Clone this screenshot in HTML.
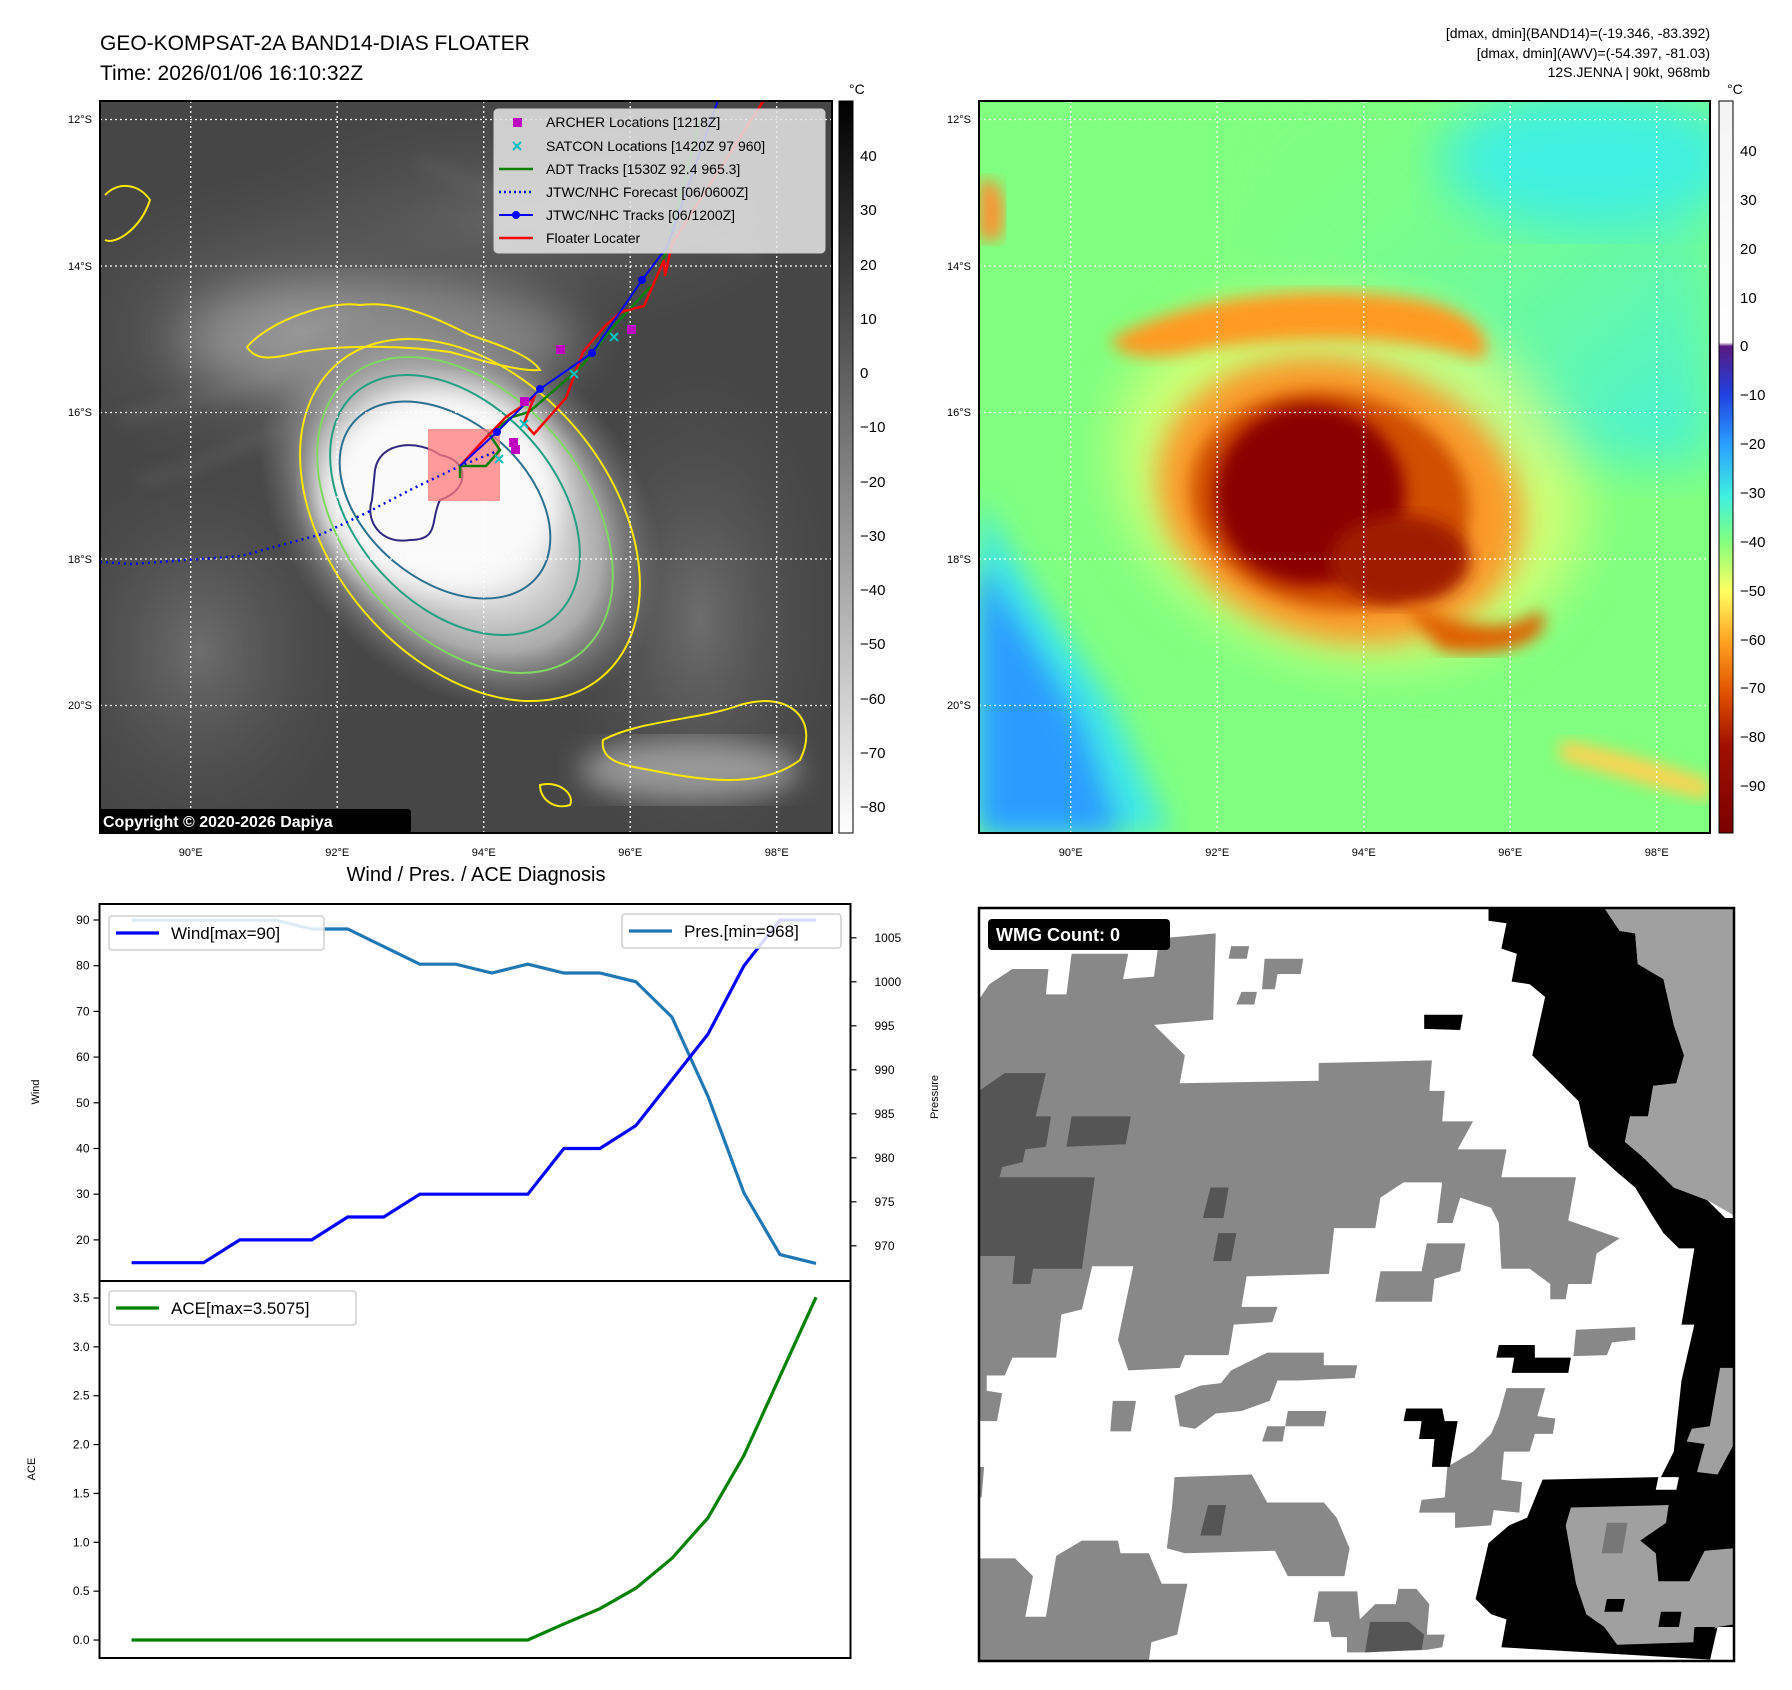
<!DOCTYPE html>
<html><head><meta charset="utf-8"><style>
html,body{margin:0;padding:0;background:#fff;}
svg{display:block;font-family:"Liberation Sans","DejaVu Sans",sans-serif;}
</style></head><body>
<svg id="root" width="1792" height="1690" viewBox="0 0 1792 1690" xmlns="http://www.w3.org/2000/svg">
<defs>
<linearGradient id="grayBar" x1="0" y1="1" x2="0" y2="0">
<stop offset="0" stop-color="#fff"/><stop offset="1" stop-color="#000"/></linearGradient>
<linearGradient id="colBar" x1="0" y1="0" x2="0" y2="1">
<stop offset="0" stop-color="#f4f4f4"/><stop offset="0.33" stop-color="#ffffff"/>
<stop offset="0.335" stop-color="#5a1a80"/><stop offset="0.40" stop-color="#2040e0"/>
<stop offset="0.47" stop-color="#2aa0ff"/><stop offset="0.54" stop-color="#40f0e0"/>
<stop offset="0.60" stop-color="#80ff80"/><stop offset="0.67" stop-color="#ffff60"/>
<stop offset="0.74" stop-color="#ffa020"/><stop offset="0.81" stop-color="#e05000"/>
<stop offset="0.88" stop-color="#a01000"/><stop offset="1" stop-color="#7a0000"/></linearGradient>
<radialGradient id="cloudL" cx="0.5" cy="0.5" r="0.5">
<stop offset="0" stop-color="#ffffff"/><stop offset="0.35" stop-color="#eeeeee"/><stop offset="0.7" stop-color="#aaaaaa"/><stop offset="1" stop-color="#777" stop-opacity="0"/></radialGradient>
<radialGradient id="hazeL" cx="0.5" cy="0.5" r="0.5">
<stop offset="0" stop-color="#888"/><stop offset="1" stop-color="#555" stop-opacity="0"/></radialGradient>
<linearGradient id="cyanTR" x1="0" y1="0" x2="1" y2="1">
<stop offset="0" stop-color="#80ff80" stop-opacity="0"/><stop offset="1" stop-color="#40f0e0"/></linearGradient>
<filter id="blur8"><feGaussianBlur stdDeviation="8"/></filter>
<filter id="blur14"><feGaussianBlur stdDeviation="14"/></filter>
<filter id="blur25"><feGaussianBlur stdDeviation="25"/></filter>
<clipPath id="clipL"><rect x="100" y="101" width="732" height="732"/></clipPath>
<clipPath id="clipR"><rect x="979" y="101" width="731" height="732"/></clipPath>
<clipPath id="clipB"><rect x="979" y="908" width="755" height="753"/></clipPath>
</defs>

<text x="100" y="50" font-size="21" fill="#000">GEO-KOMPSAT-2A BAND14-DIAS FLOATER</text>
<text x="100" y="80" font-size="21" fill="#000">Time: 2026/01/06 16:10:32Z</text>
<g font-size="14" text-anchor="end" fill="#000">
<text x="1710" y="38">[dmax, dmin](BAND14)=(-19.346, -83.392)</text>
<text x="1710" y="58">[dmax, dmin](AWV)=(-54.397, -81.03)</text>
<text x="1710" y="77">12S.JENNA | 90kt, 968mb</text>
</g>

<!-- LEFT MAP -->
<g clip-path="url(#clipL)">
<rect x="100" y="101" width="732" height="732" fill="#464646"/>
<ellipse cx="300" cy="330" rx="260" ry="160" fill="url(#hazeL)" opacity="0.8"/>
<ellipse cx="520" cy="220" rx="300" ry="120" fill="url(#hazeL)" opacity="0.5"/>
<ellipse cx="700" cy="620" rx="140" ry="260" fill="url(#hazeL)" opacity="0.6"/>
<ellipse cx="200" cy="650" rx="160" ry="200" fill="url(#hazeL)" opacity="0.6"/>
<g stroke="#777" stroke-width="6" opacity="0.5" filter="url(#blur8)" fill="none">
<path d="M120,420 C200,400 260,380 320,360"/><path d="M140,480 C200,470 250,440 300,420"/><path d="M600,160 C650,200 700,240 760,260"/><path d="M420,160 C480,190 540,200 600,230"/>
</g>
<ellipse cx="380" cy="340" rx="200" ry="60" fill="#aaa" filter="url(#blur25)" opacity="0.6"/>
<ellipse cx="460" cy="510" rx="230" ry="170" transform="rotate(45 460 510)" fill="url(#cloudL)"/>
<ellipse cx="440" cy="490" rx="120" ry="100" fill="#fafafa" filter="url(#blur14)"/>
<ellipse cx="690" cy="770" rx="110" ry="30" fill="#999" filter="url(#blur14)"/>
<g fill="none" stroke-width="2">
<ellipse cx="470" cy="520" rx="205" ry="140" transform="rotate(50 470 520)" stroke="#ffe800"/>
<path d="M247,347 C270,320 330,300 360,305 C400,300 440,320 470,335 C500,345 530,355 540,370 C520,372 480,360 450,352 C400,345 340,345 300,352 C270,360 255,360 247,347 Z" stroke="#ffe800"/>
<ellipse cx="465" cy="515" rx="180" ry="120" transform="rotate(50 465 515)" stroke="#7fd860"/>
<ellipse cx="455" cy="505" rx="150" ry="100" transform="rotate(48 455 505)" stroke="#22a080"/>
<ellipse cx="445" cy="500" rx="120" ry="80" transform="rotate(40 445 500)" stroke="#2a7090"/>
<path d="M375,470 C380,440 420,440 440,455 C470,460 470,490 440,500 C430,520 440,540 410,540 C380,545 365,520 372,500 Z" stroke="#302880"/>
<path d="M603,740 C640,720 700,720 740,705 C790,690 820,720 800,760 C760,790 700,780 650,770 C620,765 600,760 603,740 Z" stroke="#ffe800"/>
<path d="M105,195 C120,180 140,185 150,200 C140,230 115,245 105,240" stroke="#ffe800"/>
<path d="M540,785 C560,780 575,795 570,805 C555,810 540,800 540,785 Z" stroke="#ffe800"/>
</g>
<g stroke="#fff" stroke-width="1.3" stroke-dasharray="2,3">
<line x1="190.7" y1="101" x2="190.7" y2="833"/><line x1="337.2" y1="101" x2="337.2" y2="833"/><line x1="483.7" y1="101" x2="483.7" y2="833"/><line x1="630.2" y1="101" x2="630.2" y2="833"/><line x1="776.7" y1="101" x2="776.7" y2="833"/>
<line x1="100" y1="119.5" x2="832" y2="119.5"/><line x1="100" y1="266" x2="832" y2="266"/><line x1="100" y1="412.5" x2="832" y2="412.5"/><line x1="100" y1="559" x2="832" y2="559"/><line x1="100" y1="705.5" x2="832" y2="705.5"/>
</g>
<rect x="428" y="429" width="72" height="72" fill="#ff7a7a" opacity="0.75"/>
<polyline points="100,562 132,564 241,556 322,534 368,512 414,488 460,466 500,450" fill="none" stroke="#0000ff" stroke-width="2.5" stroke-dasharray="2,4"/>
<polyline points="460,478 460,466 486,466 500,450 489,434 512,417 529,412 580,368 615,325 655,282 667,249 700,120" fill="none" stroke="#008000" stroke-width="2.5"/>
<polyline points="460,466 480,444 506,417 534,398 524,423 534,434 566,398 583,352 606,325 621,312 644,306 664,260 665,276 672,244 764,100" fill="none" stroke="#ff0000" stroke-width="2.5"/>
<polyline points="460,466 497,432 540,389 592,353 642,280 667,247 718,100" fill="none" stroke="#0000ff" stroke-width="2"/>
<g fill="#0000ff"><circle cx="497" cy="432" r="4"/><circle cx="540" cy="389" r="4"/><circle cx="592" cy="353" r="4"/><circle cx="642" cy="280" r="4"/></g>
<g fill="#c000c0"><rect x="556" y="345" width="9" height="9"/><rect x="627" y="325" width="9" height="9"/><rect x="509" y="438" width="9" height="9"/><rect x="511" y="445" width="9" height="9"/><rect x="520" y="397" width="9" height="9"/></g>
<g stroke="#00c0c0" stroke-width="2"><path d="M610,333 l8,8 M618,333 l-8,8"/><path d="M520,420 l8,8 M528,420 l-8,8"/><path d="M495,455 l8,8 M503,455 l-8,8"/><path d="M570,370 l8,8 M578,370 l-8,8"/></g>
<g>
<rect x="494" y="109" width="331" height="144" rx="4" fill="#e6e6e6" fill-opacity="0.85" stroke="#ccc"/>
<g font-size="14" fill="#000">
<rect x="513" y="118" width="9" height="9" fill="#c000c0"/><text x="546" y="127">ARCHER Locations [1218Z]</text>
<path d="M513,142 l8,8 M521,142 l-8,8" stroke="#00c0c0" stroke-width="2"/><text x="546" y="151">SATCON Locations [1420Z 97 960]</text>
<line x1="499" y1="169" x2="533" y2="169" stroke="#008000" stroke-width="2.5"/><text x="546" y="174">ADT Tracks [1530Z 92.4 965.3]</text>
<line x1="499" y1="192" x2="533" y2="192" stroke="#0000ff" stroke-width="2.5" stroke-dasharray="2,3"/><text x="546" y="197">JTWC/NHC Forecast [06/0600Z]</text>
<line x1="499" y1="215" x2="533" y2="215" stroke="#0000ff" stroke-width="2"/><circle cx="516" cy="215" r="4" fill="#0000ff"/><text x="546" y="220">JTWC/NHC Tracks [06/1200Z]</text>
<line x1="499" y1="238" x2="533" y2="238" stroke="#ff0000" stroke-width="2.5"/><text x="546" y="243">Floater Locater</text>
</g></g>
<rect x="98" y="809" width="313" height="24" rx="3" fill="#000"/>
<text x="103" y="827" font-size="16" font-weight="bold" fill="#fff">Copyright © 2020-2026 Dapiya</text>
</g>
<rect x="100" y="101" width="732" height="732" fill="none" stroke="#000" stroke-width="2"/>

<g font-size="11" fill="#000" text-anchor="end">
<text x="92" y="123">12°S</text><text x="92" y="270">14°S</text><text x="92" y="416">16°S</text><text x="92" y="563">18°S</text><text x="92" y="709">20°S</text></g>
<g font-size="11" fill="#000" text-anchor="middle">
<text x="190.7" y="856">90°E</text><text x="337.2" y="856">92°E</text><text x="483.7" y="856">94°E</text><text x="630.2" y="856">96°E</text><text x="776.7" y="856">98°E</text></g>

<g>
<rect x="839" y="101" width="14" height="732" fill="url(#grayBar)" stroke="#000" stroke-width="1"/>
<text x="849" y="94" font-size="14">°C</text>
<g font-size="15" fill="#000">
<text x="860" y="161">40</text><text x="860" y="215">30</text><text x="860" y="270">20</text><text x="860" y="324">10</text><text x="860" y="378">0</text>
<text x="860" y="432">−10</text><text x="860" y="487">−20</text><text x="860" y="541">−30</text><text x="860" y="595">−40</text><text x="860" y="649">−50</text>
<text x="860" y="704">−60</text><text x="860" y="758">−70</text><text x="860" y="812">−80</text></g></g>

<!-- RIGHT MAP -->
<g clip-path="url(#clipR)">
<rect x="979" y="101" width="731" height="732" fill="#80ff80"/>
<rect x="1250" y="101" width="460" height="360" fill="url(#cyanTR)" filter="url(#blur25)"/>
<ellipse cx="1590" cy="160" rx="150" ry="70" fill="#40f0e0" filter="url(#blur25)"/>
<polygon points="979,500 1040,600 1110,700 1170,833 979,833" fill="#40e8e8" filter="url(#blur14)"/>
<polygon points="979,560 1030,640 1080,720 1120,833 979,833" fill="#2a9cff" filter="url(#blur14)"/>
<ellipse cx="1350" cy="480" rx="240" ry="180" transform="rotate(15 1350 480)" fill="#ffff70" filter="url(#blur25)" opacity="0.6"/>
<path d="M1110,340 C1180,300 1300,280 1420,300 C1470,310 1500,340 1480,360 C1420,340 1320,330 1200,350 C1160,360 1120,360 1110,340 Z" fill="#ff9a20" filter="url(#blur8)"/>
<ellipse cx="1340" cy="500" rx="185" ry="140" transform="rotate(15 1340 500)" fill="#ff9020" filter="url(#blur14)" opacity="0.9"/>
<ellipse cx="1330" cy="500" rx="140" ry="108" transform="rotate(10 1330 500)" fill="#d05000" filter="url(#blur8)"/>
<ellipse cx="1310" cy="495" rx="95" ry="90" fill="#8a0000" filter="url(#blur8)"/>
<ellipse cx="1400" cy="560" rx="70" ry="45" fill="#a01a00" filter="url(#blur8)"/>
<path d="M1400,600 C1450,620 1500,640 1540,610 C1560,640 1500,660 1440,650 Z" fill="#e06000" filter="url(#blur8)"/>
<path d="M1560,740 C1620,750 1680,770 1710,780 L1710,800 C1660,790 1600,770 1560,760 Z" fill="#ffd050" filter="url(#blur8)"/>
<path d="M979,180 C1000,175 1010,200 1000,240 L979,240 Z" fill="#ff9030" filter="url(#blur8)"/>
<g stroke="#fff" stroke-width="1.3" stroke-dasharray="2,3">
<line x1="1070.7" y1="101" x2="1070.7" y2="833"/><line x1="1217.2" y1="101" x2="1217.2" y2="833"/><line x1="1363.7" y1="101" x2="1363.7" y2="833"/><line x1="1510.2" y1="101" x2="1510.2" y2="833"/><line x1="1656.7" y1="101" x2="1656.7" y2="833"/>
<line x1="979" y1="119.5" x2="1710" y2="119.5"/><line x1="979" y1="266" x2="1710" y2="266"/><line x1="979" y1="412.5" x2="1710" y2="412.5"/><line x1="979" y1="559" x2="1710" y2="559"/><line x1="979" y1="705.5" x2="1710" y2="705.5"/>
</g></g>
<rect x="979" y="101" width="731" height="732" fill="none" stroke="#000" stroke-width="2"/>
<g font-size="11" fill="#000" text-anchor="end">
<text x="971" y="123">12°S</text><text x="971" y="270">14°S</text><text x="971" y="416">16°S</text><text x="971" y="563">18°S</text><text x="971" y="709">20°S</text></g>
<g font-size="11" fill="#000" text-anchor="middle">
<text x="1070.7" y="856">90°E</text><text x="1217.2" y="856">92°E</text><text x="1363.7" y="856">94°E</text><text x="1510.2" y="856">96°E</text><text x="1656.7" y="856">98°E</text></g>
<g>
<rect x="1719" y="101" width="14" height="732" fill="url(#colBar)" stroke="#000" stroke-width="1"/>
<text x="1727" y="94" font-size="14">°C</text>
<g font-size="15" fill="#000">
<text x="1740" y="156">40</text><text x="1740" y="205">30</text><text x="1740" y="254">20</text><text x="1740" y="303">10</text><text x="1740" y="351">0</text>
<text x="1740" y="400">−10</text><text x="1740" y="449">−20</text><text x="1740" y="498">−30</text><text x="1740" y="547">−40</text><text x="1740" y="596">−50</text>
<text x="1740" y="645">−60</text><text x="1740" y="693">−70</text><text x="1740" y="742">−80</text><text x="1740" y="791">−90</text></g></g>

<!-- WMG panel -->
<g clip-path="url(#clipB)">
<svg x="979" y="908" width="755" height="753" viewBox="30 30 1467 1482" preserveAspectRatio="none">
<rect x="30" y="30" width="1467" height="1482" fill="#fff"/>
<g fill="#888">
<polygon points="30,210 50,180 95,150 165,150 160,200 200,200 210,120 320,120 310,170 370,165 380,90 490,80 485,250 370,260 400,290 430,320 420,375 690,370 690,335 910,330 905,390 935,390 930,450 990,450 960,505 1055,505 1045,560 1190,560 1175,645 1275,680 1230,710 1220,770 1175,770 1170,800 1140,800 1140,770 1100,740 1045,740 1040,650 1025,620 965,600 950,650 920,650 930,570 855,570 810,600 800,660 720,660 710,750 550,755 540,815 610,815 600,845 525,850 515,910 430,910 420,935 320,940 300,880 330,735 250,735 230,820 190,830 180,915 95,915 80,950 45,950 45,980 75,985 65,1040 30,1040"/>
<polygon points="30,1310 100,1310 135,1345 120,1425 160,1425 180,1305 230,1275 300,1275 305,1300 360,1300 385,1360 435,1360 415,1460 365,1475 360,1512 30,1512"/>
<polygon points="410,1150 560,1145 590,1200 700,1200 725,1230 750,1290 740,1345 630,1345 605,1295 430,1300 395,1290 405,1210"/>
<polygon points="1055,975 1130,975 1115,1030 1150,1035 1145,1065 1110,1065 1100,1100 1050,1100 1045,1155 1085,1160 1080,1220 1030,1215 1025,1245 955,1250 955,1220 885,1220 890,1195 935,1190 940,1130 990,1100 1025,1065 1040,1030"/>
<polygon points="520,940 590,905 700,905 700,930 765,930 760,955 650,960 610,960 595,1000 540,1020 490,1025 450,1055 420,1050 410,990 460,970 500,965"/>
<polygon points="690,1375 765,1375 770,1430 800,1400 840,1400 845,1370 880,1370 905,1400 900,1460 935,1460 930,1485 900,1490 780,1495 745,1495 745,1465 715,1465 710,1435 680,1435"/>
<polygon points="810,745 890,745 900,690 975,690 965,745 915,760 910,805 800,805"/>
<polygon points="1190,860 1305,855 1305,880 1260,885 1250,910 1185,912"/>
<polygon points="520,105 555,105 550,130 515,130"/><polygon points="585,130 660,130 655,160 610,160 605,190 580,190"/><polygon points="540,195 570,195 565,220 530,220"/>
<polygon points="30,1130 40,1130 35,1190 30,1190"/><polygon points="290,1000 335,1000 325,1060 285,1060"/><polygon points="590,1050 625,1050 620,1080 580,1080"/><polygon points="630,1020 705,1020 700,1050 625,1050"/>
</g>
<g fill="#555">
<polygon points="30,390 80,355 160,355 140,440 170,440 160,500 120,505 115,530 75,540 70,560 185,560 255,560 230,740 135,740 130,770 95,770 100,715 30,715"/>
<polygon points="210,440 325,440 315,495 200,500"/>
<polygon points="480,580 515,580 505,640 465,640"/><polygon points="495,670 530,670 520,725 485,725"/>
<polygon points="475,1205 510,1205 500,1265 460,1265"/>
<polygon points="790,1435 865,1435 895,1460 890,1490 780,1495"/>
</g>
<g fill="#000">
<polygon points="1020,30 1245,30 1275,75 1305,80 1310,140 1360,170 1380,260 1400,320 1385,375 1340,380 1330,440 1295,440 1285,490 1320,520 1350,550 1380,580 1445,605 1480,640 1497,640 1497,1512 1045,1485 1055,1430 1025,1420 995,1390 1020,1280 1060,1245 1095,1230 1125,1155 1355,1150 1380,1100 1395,960 1420,850 1395,850 1420,700 1390,700 1360,670 1335,630 1305,580 1270,550 1215,500 1195,410 1135,350 1105,320 1130,205 1100,180 1065,175 1075,120 1045,110 1055,60 1020,55"/>
<polygon points="895,240 970,240 965,270 895,268"/>
<polygon points="1040,890 1110,890 1110,915 1180,915 1175,945 1065,945 1070,915 1035,915"/>
<polygon points="860,1015 930,1015 935,1040 960,1040 945,1130 910,1130 915,1075 885,1075 890,1040 855,1040"/>
</g>
<g fill="#fff"><polygon points="1350,1150 1390,1150 1385,1175 1345,1175"/><polygon points="1465,1445 1497,1445 1497,1512 1450,1512"/></g>
<g fill="#a0a0a0">
<polygon points="1245,30 1497,30 1497,635 1445,605 1380,580 1350,550 1320,520 1285,490 1295,440 1330,440 1340,380 1385,375 1400,320 1380,260 1360,170 1310,140 1305,80 1275,75"/>
<polygon points="1180,1210 1370,1205 1365,1240 1315,1275 1345,1300 1350,1355 1410,1355 1440,1295 1497,1290 1497,1440 1465,1445 1420,1475 1270,1480 1245,1445 1210,1420 1190,1360 1170,1245"/>
<polygon points="1470,935 1497,935 1497,1085 1465,1145 1425,1140 1440,1085 1405,1080 1415,1055 1450,1050"/>
</g>
<g fill="#000"><polygon points="1250,1390 1285,1390 1280,1415 1245,1415"/><polygon points="1355,1415 1395,1415 1390,1445 1350,1445"/><polygon points="1420,1445 1460,1445 1455,1475 1418,1475"/></g>
<polygon points="1250,1240 1290,1240 1280,1300 1240,1300" fill="#777"/>
</svg>
<rect x="988" y="919" width="182" height="31" rx="4" fill="#000"/>
<text x="996" y="941" font-size="18" font-weight="bold" fill="#fff">WMG Count: 0</text>
</g>
<rect x="979" y="908" width="755" height="753" fill="none" stroke="#000" stroke-width="2.5"/>

<text x="476" y="881" font-size="20" text-anchor="middle" fill="#000">Wind / Pres. / ACE Diagnosis</text>
<g id="chart"></g>
</svg>

<script>
const windValues = [15,15,15,20,20,20,25,25,30,30,30,30,40,40,45,55,65,80,90,90];
const presValues = [1007,1007,1007,1007,1007,1006,1006,1004,1002,1002,1001,1002,1001,1001,1000,996,987,976,969,968];
const aceValues = [0,0,0,0,0,0,0,0,0,0,0,0,0.165,0.32,0.53,0.835,1.25,1.89,2.70,3.5075];
const windTicks = [20,30,40,50,60,70,80,90];
const presTicks = [970,975,980,985,990,995,1000,1005];
const aceTicks = [0.0,0.5,1.0,1.5,2.0,2.5,3.0,3.5];

const NS = 'http://www.w3.org/2000/svg';
const chart = document.getElementById('chart');
const L = 99.5, R = 850.5, T = 904, MID = 1281, B = 1658;
const X0 = 131.6, X1 = 816;
const n = windValues.length;
const xAt = i => X0 + (X1 - X0) * i / (n - 1);
const yWind = v => MID - (v - 11.0) / (93.5 - 11.0) * (MID - T);
const yPres = v => MID - (v - 966.0) / (1008.84 - 966.0) * (MID - T);
const yAce = v => B - (v + 0.184) / (3.674 + 0.184) * (B - MID);

function mk(tag, attrs, parent) {
  const e = document.createElementNS(NS, tag);
  for (const k in attrs) e.setAttribute(k, attrs[k]);
  (parent || chart).appendChild(e);
  return e;
}
function txt(x, y, s, size, anchor, parent) {
  const t = mk('text', {x: x, y: y, 'font-size': size, 'text-anchor': anchor, fill: '#000'}, parent);
  t.textContent = s;
  return t;
}
function pts(vals, yf) { return vals.map((v, i) => xAt(i).toFixed(1) + ',' + yf(v).toFixed(1)).join(' '); }

const pl = mk('polyline', {points: pts(presValues, yPres), fill: 'none', stroke: '#1f77b4', 'stroke-width': 3.2});


const wl = mk('polyline', {points: pts(windValues, yWind), fill: 'none', stroke: '#0000ff', 'stroke-width': 3.2});


const al = mk('polyline', {points: pts(aceValues, yAce), fill: 'none', stroke: '#008000', 'stroke-width': 3.2});



const f1 = mk('rect', {x: L, y: T, width: R - L, height: MID - T, fill: 'none', stroke: '#000', 'stroke-width': 2});


const f2 = mk('rect', {x: L, y: MID, width: R - L, height: B - MID, fill: 'none', stroke: '#000', 'stroke-width': 2});



windTicks.forEach(v => {
  const y = yWind(v);
  mk('line', {x1: L - 6, y1: y, x2: L, y2: y, stroke: '#000', 'stroke-width': 1.2});
  const t = txt(L - 10, y + 4, String(v), 12, 'end');
  
  
});
presTicks.forEach(v => {
  const y = yPres(v);
  mk('line', {x1: R, y1: y, x2: R + 6, y2: y, stroke: '#000', 'stroke-width': 1.2});
  const t = txt(R + 24, y + 4, String(v), 12, 'start');
  
  
});
aceTicks.forEach(v => {
  const y = yAce(v);
  mk('line', {x1: L - 6, y1: y, x2: L, y2: y, stroke: '#000', 'stroke-width': 1.2});
  const t = txt(L - 10, y + 4, v.toFixed(1), 12, 'end');
  
  
});

const wt = txt(0, 0, 'Wind', 11, 'middle');
wt.setAttribute('transform', 'translate(39,1092) rotate(-90)');


const pt = txt(0, 0, 'Pressure', 11, 'middle');
pt.setAttribute('transform', 'translate(938,1097) rotate(-90)');


const at = txt(0, 0, 'ACE', 11, 'middle');
at.setAttribute('transform', 'translate(35,1469) rotate(-90)');



function legend(x, y, w, label, color, name) {
  const g = mk('g', {});
  
  
  mk('rect', {x: x, y: y, width: w, height: 34, rx: 3, fill: '#fff', 'fill-opacity': 0.85, stroke: '#d0d0d0', 'stroke-width': 1.5}, g);
  mk('line', {x1: x + 7, y1: y + 17, x2: x + 50, y2: y + 17, stroke: color, 'stroke-width': 3.2}, g);
  txt(x + 62, y + 23, label, 17, 'start', g);
}
legend(109, 916, 215, 'Wind[max=90]', '#0000ff', 'wind-legend');
legend(622, 914, 219, 'Pres.[min=968]', '#1f77b4', 'pressure-legend');
legend(109, 1291, 247, 'ACE[max=3.5075]', '#008000', 'ace-legend');
</script>
</body></html>
